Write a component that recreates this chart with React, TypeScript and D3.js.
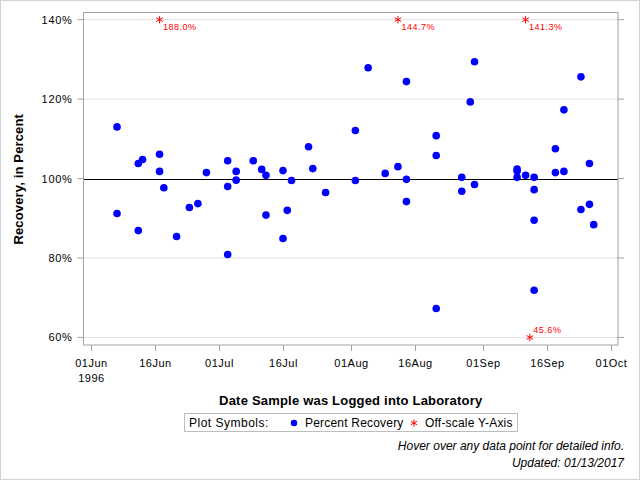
import React from "react";
import * as d3 from "d3";

// Recovery measurements: sample log date and percent recovery
const sampleDates: string[] = [
  "1996-06-07", "1996-06-07", "1996-06-12", "1996-06-12", "1996-06-13",
  "1996-06-17", "1996-06-17", "1996-06-18", "1996-06-21", "1996-06-24",
  "1996-06-26", "1996-06-28", "1996-07-03", "1996-07-03", "1996-07-03",
  "1996-07-05", "1996-07-05", "1996-07-09", "1996-07-11", "1996-07-12",
  "1996-07-12", "1996-07-16", "1996-07-16", "1996-07-17", "1996-07-18",
  "1996-07-22", "1996-07-23", "1996-07-26", "1996-08-02", "1996-08-02",
  "1996-08-05", "1996-08-09", "1996-08-12", "1996-08-14", "1996-08-14",
  "1996-08-14", "1996-08-21", "1996-08-21", "1996-08-21", "1996-08-27",
  "1996-08-27", "1996-08-29", "1996-08-30", "1996-08-30", "1996-09-09",
  "1996-09-09", "1996-09-09", "1996-09-11", "1996-09-13", "1996-09-13",
  "1996-09-13", "1996-09-13", "1996-09-18", "1996-09-18", "1996-09-20",
  "1996-09-20", "1996-09-24", "1996-09-24", "1996-09-26", "1996-09-26",
  "1996-09-27",
];
const recoveries: number[] = [
  113.0, 91.2, 103.8, 86.9, 104.8,
  106.1, 101.8, 97.7, 85.4, 92.7,
  93.7, 101.5, 104.5, 98.0, 80.9,
  101.8, 99.6, 104.5, 102.3, 100.8,
  90.8, 102.0, 84.9, 92.0, 99.5,
  108.0, 102.5, 96.5, 112.1, 99.5,
  127.9, 101.3, 103.0, 124.4, 99.8,
  94.2, 110.8, 105.8, 67.3, 100.3,
  96.8, 119.3, 129.4, 98.5, 102.4,
  101.9, 100.3, 100.8, 100.3, 97.2,
  89.5, 71.9, 107.5, 101.5, 117.3,
  101.8, 125.6, 92.2, 103.8, 93.5,
  88.4,
];

// Results that fall outside the displayed recovery range
const offScaleDates: string[] = ["1996-06-17", "1996-08-12", "1996-09-11", "1996-09-12"];
const offScaleValues: number[] = [188.0, 144.7, 141.3, 45.6];

// Axis settings
const xTickDates: string[] = [
  "1996-06-01", "1996-06-16", "1996-07-01", "1996-07-16", "1996-08-01",
  "1996-08-16", "1996-09-01", "1996-09-16", "1996-10-01",
];
const yTicks: number[] = [60, 80, 100, 120, 140];
const yMin = 60;
const yMax = 140;
const referenceLevel = 100;

const W = 640;
const H = 480;
const plot = { left: 83.5, right: 618, top: 12.5, bottom: 345 };
const FONT = "'Liberation Sans', Arial, Helvetica, sans-serif";

const parse = d3.utcParse("%Y-%m-%d");
const fmtDay = d3.utcFormat("%d%b");

export default function App() {
  const x = d3
    .scaleUtc()
    .domain([
      d3.utcHour.offset(parse("1996-05-30")!, 3),
      d3.utcHour.offset(parse("1996-10-02")!, 17),
    ])
    .range([plot.left, plot.right]);
  const y = d3
    .scaleLinear()
    .domain([58.1, 141.8])
    .range([plot.bottom, plot.top]);

  const points = sampleDates.map((d, i) => ({ date: parse(d)!, value: recoveries[i] }));
  const offScale = offScaleDates.map((d, i) => ({ date: parse(d)!, value: offScaleValues[i] }));

  const dot = d3.symbol(d3.symbolCircle, Math.PI * 3.8 * 3.8)()!;
  const star = d3.symbol(d3.symbolAsterisk, 40)()!;
  const legendStar = d3.symbol(d3.symbolAsterisk, 34)()!;

  const axisColor = "#a3a3a3";
  const gridColor = "#e1e1e1";
  const midX = (plot.left + plot.right) / 2;

  return (
    <svg
      width={W}
      height={H}
      viewBox={`0 0 ${W} ${H}`}
      style={{ position: "absolute", left: 0, top: 0, display: "block", background: "#fff" }}
      fontFamily={FONT}
    >
      <rect x={0.5} y={0.5} width={W - 1} height={H - 1} fill="#fff" stroke="#d3d3d3" />

      {/* horizontal gridlines */}
      {yTicks
        .filter((t) => t !== referenceLevel)
        .map((t) => (
          <line key={`g${t}`} x1={plot.left} x2={plot.right} y1={y(t)} y2={y(t)} stroke={gridColor} />
        ))}

      {/* 100% reference line */}
      <line
        x1={plot.left}
        x2={plot.right}
        y1={Math.round(y(referenceLevel)) + 0.5}
        y2={Math.round(y(referenceLevel)) + 0.5}
        stroke="#000"
      />

      {/* plot frame */}
      <rect
        x={plot.left}
        y={plot.top}
        width={plot.right - plot.left}
        height={plot.bottom - plot.top}
        fill="none"
        stroke={axisColor}
      />

      {/* y axis ticks and labels (left), ticks only (right) */}
      {yTicks.map((t) => (
        <g key={`y${t}`}>
          <line x1={plot.left - 6} x2={plot.left} y1={y(t)} y2={y(t)} stroke={axisColor} />
          <line x1={plot.right} x2={plot.right + 6} y1={y(t)} y2={y(t)} stroke={axisColor} />
          <text
            x={plot.left - 11}
            y={y(t) + 4}
            textAnchor="end"
            fontSize={11}
            letterSpacing={0.7}
            fill="#000"
          >
            {`${t}%`}
          </text>
        </g>
      ))}

      {/* x axis ticks and labels */}
      {xTickDates.map((s, i) => {
        const d = parse(s)!;
        const px = Math.round(x(d)) + 0.5;
        return (
          <g key={s}>
            <line x1={px} x2={px} y1={plot.bottom} y2={plot.bottom + 6} stroke={axisColor} />
            <text x={px} y={367} textAnchor="middle" fontSize={11} letterSpacing={0.5} fill="#000">
              {fmtDay(d)}
            </text>
            {i === 0 && (
              <text x={px} y={382} textAnchor="middle" fontSize={11} letterSpacing={0.5} fill="#000">
                {d.getUTCFullYear()}
              </text>
            )}
          </g>
        );
      })}

      {/* axis titles */}
      <text
        transform={`translate(23,${(plot.top + plot.bottom) / 2 + 0.5}) rotate(-90)`}
        textAnchor="middle"
        fontSize={13}
        fontWeight="bold"
        letterSpacing={0.15}
        fill="#000"
      >
        Recovery, in Percent
      </text>
      <text x={midX} y={405} textAnchor="middle" fontSize={13} fontWeight="bold" letterSpacing={0.2} fill="#000">
        Date Sample was Logged into Laboratory
      </text>

      {/* recovery points */}
      {points.map((p, i) => (
        <path key={`p${i}`} d={dot} transform={`translate(${x(p.date)},${y(p.value)})`} fill="#0000ff" />
      ))}

      {/* off-scale markers with their values */}
      {offScale.map((p, i) => {
        const high = p.value > yMax;
        const py = y(high ? yMax : yMin);
        const px = x(p.date);
        return (
          <g key={`o${i}`}>
            <path d={star} transform={`translate(${px},${py})`} fill="none" stroke="#ff0000" strokeWidth={1} />
            <text
              x={px + 3.5}
              y={high ? py + 10.5 : py - 4}
              fontSize={9}
              letterSpacing={0.5}
              fill="#ff0000"
            >
              {`${p.value.toFixed(1)}%`}
            </text>
          </g>
        );
      })}

      {/* legend */}
      <g>
        <rect x={184.5} y={413.5} width={333} height={18} fill="#fff" stroke="#bdbdbd" />
        <text x={189} y={427} fontSize={12} letterSpacing={0.5} fill="#000">
          Plot Symbols:
        </text>
        <path d={dot} transform="translate(294,423) scale(0.85)" fill="#0000ff" />
        <text x={305} y={427} fontSize={12} letterSpacing={0.2} fill="#000">
          Percent Recovery
        </text>
        <path d={legendStar} transform="translate(414,423)" fill="none" stroke="#ff0000" />
        <text x={425} y={427} fontSize={12} letterSpacing={0.2} fill="#000">
          Off-scale Y-Axis
        </text>
      </g>

      {/* footnotes */}
      <text x={624} y={450} textAnchor="end" fontSize={12} fontStyle="italic" fill="#000">
        Hover over any data point for detailed info.
      </text>
      <text x={624} y={466.5} textAnchor="end" fontSize={12} fontStyle="italic" fill="#000">
        Updated: 01/13/2017
      </text>
    </svg>
  );
}
